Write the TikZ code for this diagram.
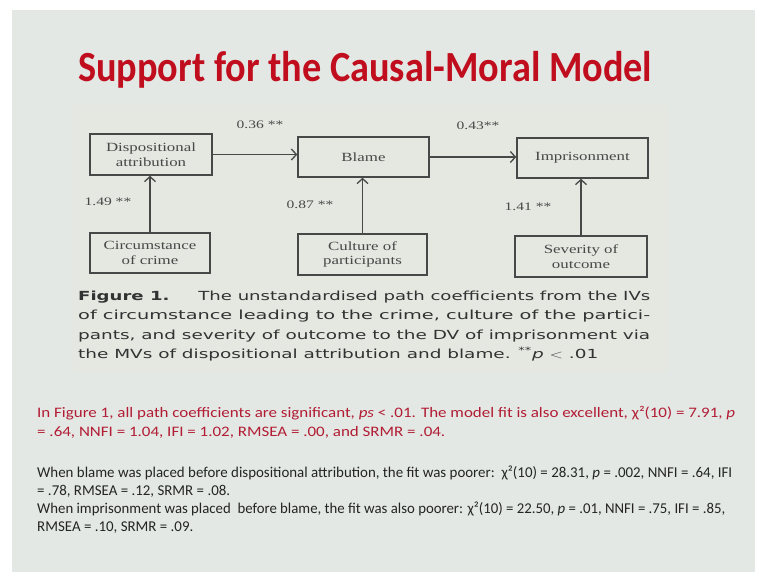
\documentclass[tikz,border=0pt]{standalone}
\usepackage{fontspec}
\usepackage{graphicx}
\usetikzlibrary{arrows.meta}
\setmainfont{Carlito}
\newfontfamily\diagfont[FakeStretch=1.35]{Liberation Serif}
\newfontfamily\capfont{DejaVu Sans}
\definecolor{slidebg}{RGB}{227,232,228}
\definecolor{paper}{RGB}{229,231,225}
\definecolor{titlered}{RGB}{192,14,30}
\definecolor{notered}{RGB}{178,28,52}
\definecolor{diag}{RGB}{72,72,72}
\definecolor{captext}{RGB}{50,50,50}
\definecolor{bodytext}{RGB}{36,36,36}
\newlength\natw
% #1 macro receiving the horizontal factor, #2 sample text, #3 target width
\newcommand\fitfactor[3]{\settowidth\natw{#2}\pgfmathsetmacro#1{#3/\natw}}
\tikzset{
  var/.style={draw=diag, line width=1.5pt, inner sep=0pt, align=center,
    text=diag, font=\diagfont\fontsize{12.5}{14.5}\selectfont},
  coef/.style={text=diag, inner sep=0pt, font=\diagfont\fontsize{11.5}{13}\selectfont},
  path/.style={draw=diag, line width=1.3pt,
    -{Straight Barb[length=5pt,width=11pt,line width=1.3pt]}},
  capline/.style={anchor=base west, inner sep=0pt, text=captext,
    font=\capfont\fontsize{12.5}{14}\selectfont},
  redline/.style={anchor=base west, inner sep=0pt, text=notered,
    font=\fontsize{14.5}{17}\selectfont},
  blkline/.style={anchor=base west, inner sep=0pt, text=bodytext,
    font=\fontsize{15}{17}\selectfont},
}
\begin{document}
% horizontal factors for the condensed notes
\fitfactor{\redsx}{\fontsize{14.5}{17}\selectfont In Figure 1, all path coefficients are significant, \textit{ps} < .01. The model fit is also excellent, χ²(10) = 7.91, \textit{p}}{698}%
\fitfactor{\blksx}{\fontsize{15}{17}\selectfont When blame was placed before dispositional attribution, the fit was poorer:\ \ χ²(10) = 28.31, \textit{p} = .002, NNFI = .64, IFI}{695}%
\begin{tikzpicture}[x=1pt, y=-1pt]
\useasboundingbox (0,0) rectangle (765,581);
\fill[white] (0,0) rectangle (765,581);
\fill[slidebg] (12,10) rectangle (755,572);
\fill[paper] (73,105) rectangle (668,372);

% title
\node[anchor=base west, inner sep=0pt, text=titlered] (title) at (78,81)
  {\resizebox{574pt}{\height}{\fontsize{43}{50}\selectfont\bfseries Support for the Causal-Moral Model}};

% path model
\node[var, minimum width=122pt, minimum height=41pt] (disp) at (151,154.5) {Dispositional\\attribution};
\node[var, minimum width=131pt, minimum height=40pt] (blame) at (363.5,157) {Blame};
\node[var, minimum width=131pt, minimum height=40pt] (imp) at (582.5,158) {Imprisonment};
\node[var, minimum width=120pt, minimum height=40pt] (circ) at (150,253) {Circumstance\\of crime};
\node[var, minimum width=129pt, minimum height=41pt] (cult) at (362.5,254.5) {Culture of\\participants};
\node[var, minimum width=132pt, minimum height=41pt] (sev) at (581,256.5) {Severity of\\outcome};

\draw[path] (disp.east) -- (disp.east -| blame.west);
\draw[path] (blame.east) -- (blame.east -| imp.west);
\draw[path] (circ.north) -- (circ.north |- disp.south);
\draw[path] (cult.north) -- (cult.north |- blame.south);
\draw[path] (sev.north) -- (sev.north |- imp.south);

\node[coef] (c1) at (260,125) {0.36 **};
\node[coef] (c2) at (478,126) {0.43**};
\node[coef] (c3) at (108,202) {1.49 **};
\node[coef] (c4) at (310,205) {0.87 **};
\node[coef] (c5) at (528,207) {1.41 **};

% figure caption
\node[capline] (cap1) at (78,300) {\resizebox{572pt}{\height}{\textbf{Figure 1.}\hspace{1.6em}The unstandardised path coefficients from the IVs}};
\node[capline] (cap2) at (78,319.5) {\resizebox{572pt}{\height}{of circumstance leading to the crime, culture of the partici-}};
\node[capline] (cap3) at (78,339) {\resizebox{572pt}{\height}{pants, and severity of outcome to the DV of imprisonment via}};
\node[capline] (cap4) at (78,358) {\resizebox{520pt}{\height}{the MVs of dispositional attribution and blame. \textsuperscript{**}\textit{p} \ensuremath{<} .01}};

% summary of fit, red
\node[redline] (r1) at (37,417) {\scalebox{\redsx}[1]{In Figure 1, all path coefficients are significant, \textit{ps} < .01. The model fit is also excellent, χ²(10) = 7.91, \textit{p}}};
\node[redline] (r2) at (37,436) {\scalebox{\redsx}[1]{= .64, NNFI = 1.04, IFI = 1.02, RMSEA = .00, and SRMR = .04.}};

% alternative orderings
\node[blkline] (b1) at (37,477) {\scalebox{\blksx}[1]{When blame was placed before dispositional attribution, the fit was poorer:\ \ χ²(10) = 28.31, \textit{p} = .002, NNFI = .64, IFI}};
\node[blkline] (b2) at (37,495) {\scalebox{\blksx}[1]{= .78, RMSEA = .12, SRMR = .08.}};
\node[blkline] (b3) at (37,513) {\resizebox{688pt}{\height}{When imprisonment was placed\ \ before blame, the fit was also poorer: χ²(10) = 22.50, \textit{p} = .01, NNFI = .75, IFI = .85,}};
\node[blkline] (b4) at (37,531) {\scalebox{\blksx}[1]{RMSEA = .10, SRMR = .09.}};
\end{tikzpicture}
\end{document}
